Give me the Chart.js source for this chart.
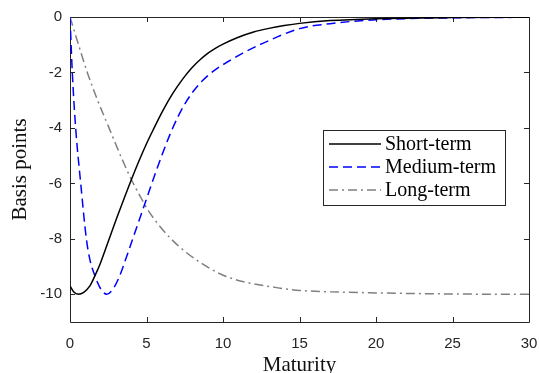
<!DOCTYPE html>
<html>
<head>
<meta charset="utf-8">
<script src="https://cdn.jsdelivr.net/npm/chart.js@4.4.1/dist/chart.umd.min.js"></script>
<style>
  html, body { margin: 0; padding: 0; background: #fff; }
  canvas { display: block; }
</style>
</head>
<body>
<canvas id="loadings" width="539" height="373"></canvas>
<script>
// values
const shortX = [0, 0.25, 0.55, 0.9, 1.3, 1.64, 2.0, 2.5, 3.0, 3.5, 3.9, 4.5, 5.0, 5.5, 6.0, 6.5, 7.0, 7.5, 8.0, 8.5, 9.0, 9.5, 10, 11, 12, 13, 14, 15, 17, 20, 25, 30];
const shortY = [-9.7, -9.92, -10, -9.93, -9.7, -9.32, -8.86, -8.1, -7.33, -6.6, -6.02, -5.2, -4.57, -4.0, -3.45, -2.95, -2.52, -2.14, -1.81, -1.54, -1.31, -1.13, -0.98, -0.73, -0.54, -0.41, -0.31, -0.23, -0.13, -0.06, -0.02, -0.01];

const mediumX = [0, 0.15, 0.37, 0.7, 1.07, 1.3, 1.64, 2.0, 2.4, 2.8, 3.2, 3.6, 4.1, 4.6, 5.1, 5.6, 6.1, 6.6, 7.1, 7.6, 8.1, 8.6, 9.1, 9.6, 10.2, 11.3, 12.6, 15, 17, 20, 25, 30];
const mediumY = [0, -2, -4, -6, -8, -8.75, -9.35, -9.8, -10, -9.82, -9.4, -8.8, -8.0, -7.2, -6.4, -5.6, -4.85, -4.15, -3.55, -3.05, -2.65, -2.33, -2.07, -1.86, -1.65, -1.3, -0.95, -0.42, -0.24, -0.1, -0.03, -0.01];

const longX = [0, 0.5, 1.13, 1.8, 2.55, 3.0, 3.5, 4.0, 4.5, 5.14, 5.8, 6.6, 7.5, 8.5, 9.8, 11, 12, 13.5, 15, 17, 20, 25, 30];
const longY = [0, -0.9, -2.0, -3.0, -4.0, -4.6, -5.25, -5.85, -6.38, -7.0, -7.5, -8.0, -8.45, -8.85, -9.26, -9.5, -9.62, -9.76, -9.86, -9.91, -9.95, -9.99, -10];

const seriesNames = ['Short-term', 'Medium-term', 'Long-term'];
const xTicks = [0, 5, 10, 15, 20, 25, 30];
const yTicks = [0, -2, -4, -6, -8, -10];

const toPoints = (xs, ys) => xs.map((x, i) => ({ x: x, y: ys[i] }));

const axisColor = '#262626';
const serif = '"Liberation Serif", "Times New Roman", serif';

// box round the plot, with inner ticks on all four sides (MATLAB style)
const boxPlugin = {
    id: 'boxPlugin',
    beforeDatasetsDraw(chart) {
        const { ctx, chartArea: a, scales } = chart;
        const t = 5;
        ctx.save();
        ctx.strokeStyle = axisColor;
        ctx.lineWidth = 1;
        ctx.beginPath();
        ctx.rect(Math.round(a.left) + 0.5, Math.round(a.top) + 0.5,
            Math.round(a.right - a.left), Math.round(a.bottom - a.top));
        xTicks.forEach(v => {
            const px = Math.round(scales.x.getPixelForValue(v)) + 0.5;
            ctx.moveTo(px, a.bottom); ctx.lineTo(px, a.bottom - t);
            ctx.moveTo(px, a.top); ctx.lineTo(px, a.top + t);
        });
        yTicks.forEach(v => {
            const py = Math.round(scales.y.getPixelForValue(v)) + 0.5;
            ctx.moveTo(a.left, py); ctx.lineTo(a.left + t, py);
            ctx.moveTo(a.right, py); ctx.lineTo(a.right - t, py);
        });
        ctx.stroke();
        ctx.restore();
    }
};

// legend box inside the plot
const legendBox = {
    id: 'legendBox',
    afterDraw(chart) {
        const { ctx } = chart;
        const x0 = 323.5, y0 = 130.5, w = 182, h = 75;
        ctx.save();
        ctx.fillStyle = '#fff';
        ctx.fillRect(x0, y0, w, h);
        ctx.strokeStyle = axisColor;
        ctx.lineWidth = 1;
        ctx.strokeRect(x0, y0, w, h);
        chart.data.datasets.forEach((ds, i) => {
            const cy = 144 + i * 23;
            ctx.strokeStyle = ds.borderColor;
            ctx.lineWidth = ds.borderWidth;
            ctx.setLineDash(ds.borderDash || []);
            ctx.beginPath();
            ctx.moveTo(329, cy);
            ctx.lineTo(381, cy);
            ctx.stroke();
            ctx.setLineDash([]);
            ctx.fillStyle = '#000';
            ctx.font = '20px ' + serif;
            ctx.textBaseline = 'middle';
            ctx.textAlign = 'left';
            ctx.fillText(ds.label, 385, cy + 1);
        });
        ctx.restore();
    }
};

new Chart(document.getElementById('loadings'), {
    type: 'line',
    data: {
        datasets: [
            {
                label: seriesNames[0],
                data: toPoints(shortX, shortY),
                borderColor: '#000000',
                borderWidth: 1.5
            },
            {
                label: seriesNames[1],
                data: toPoints(mediumX, mediumY),
                borderColor: '#0000ff',
                borderWidth: 1.5,
                borderDash: [9, 5]
            },
            {
                label: seriesNames[2],
                data: toPoints(longX, longY),
                borderColor: '#808080',
                borderWidth: 1.5,
                borderDash: [9, 4, 2, 4]
            }
        ]
    },
    options: {
        responsive: false,
        animation: false,
        elements: {
            point: { radius: 0 },
            line: { cubicInterpolationMode: 'monotone', fill: false }
        },
        layout: { padding: { left: 0, right: 0, top: 15, bottom: 0 } },
        plugins: {
            legend: { display: false },
            tooltip: { enabled: false }
        },
        scales: {
            x: {
                type: 'linear',
                min: 0,
                max: 30,
                afterBuildTicks: s => { s.ticks = xTicks.map(v => ({ value: v })); },
                afterFit: s => { s.height = 51; s.paddingRight = 10; },
                grid: { display: false, drawTicks: false },
                border: { display: false },
                ticks: {
                    padding: 13,
                    color: axisColor,
                    font: { family: '"Liberation Sans", Arial, sans-serif', size: 15 },
                    maxRotation: 0,
                    callback: v => String(v)
                },
                title: {
                    display: true,
                    text: 'Maturity',
                    color: '#111',
                    font: { family: serif, size: 21, lineHeight: 1 },
                    padding: { top: 0, bottom: -3 }
                }
            },
            y: {
                type: 'linear',
                min: -11,
                max: 0,
                afterBuildTicks: s => { s.ticks = yTicks.map(v => ({ value: v })); },
                afterFit: s => { s.width = 70; },
                grid: { display: false, drawTicks: false },
                border: { display: false },
                ticks: {
                    padding: 8,
                    color: axisColor,
                    font: { family: '"Liberation Sans", Arial, sans-serif', size: 15 },
                    callback: v => String(v)
                },
                title: {
                    display: true,
                    text: 'Basis points',
                    color: '#111',
                    font: { family: serif, size: 21 },
                    padding: { top: 8, bottom: 0 }
                }
            }
        }
    },
    plugins: [boxPlugin, legendBox]
});
</script>
</body>
</html>
